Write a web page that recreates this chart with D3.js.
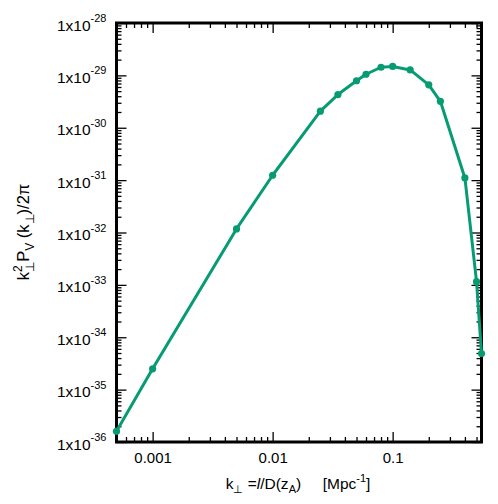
<!DOCTYPE html>
<html>
<head>
<meta charset="utf-8">
<script src="https://cdn.jsdelivr.net/npm/d3@7"></script>
<style>
  html, body { margin: 0; padding: 0; background: #fff; }
  svg { display: block; }
  text { font-family: "Liberation Sans", Arial, Helvetica, sans-serif; fill: #000; }
</style>
</head>
<body>
<svg id="chart" width="498" height="504"></svg>
<script>
// ---- data ----
const kPerp = [0.0005, 0.001, 0.005, 0.01, 0.025, 0.035, 0.05, 0.06, 0.08, 0.1, 0.14, 0.2, 0.25, 0.4, 0.5, 0.55];
const power = [1.6e-36, 2.5e-35, 1.17e-32, 1.24e-31, 2.07e-30, 4.3e-30, 7.9e-30, 1.05e-29, 1.43e-29, 1.48e-29, 1.27e-29, 6.6e-30, 3.2e-30, 1.1e-31, 1.15e-33, 4.9e-35];
const xDomain = [0.0005, 0.55];
const yDomain = [1e-36, 1e-28];
const xMajorTicks = [0.001, 0.01, 0.1];
const xTickLabels = ["0.001", "0.01", "0.1"];
const yExponents = [-28, -29, -30, -31, -32, -33, -34, -35, -36];

// ---- layout ----
const svg = d3.select("#chart");
const pLeft = 116.5, pRight = 481.5, pTop = 23, pBottom = 442;
const x = d3.scaleLog().domain(xDomain).range([pLeft, pRight]);
const y = d3.scaleLog().domain(yDomain).range([pBottom, pTop]);

const color = "#079B74";
const majorLen = 10, minorLen = 5;

function minorTicks(domain) {
  const out = [];
  const lo = Math.floor(Math.log10(domain[0]) - 1e-9), hi = Math.ceil(Math.log10(domain[1]));
  for (let e = lo; e <= hi; e++) {
    for (let m = 2; m <= 9; m++) {
      const v = m * Math.pow(10, e);
      if (v >= domain[0] * 0.9999 && v <= domain[1] * 1.0001) out.push(v);
    }
  }
  return out;
}
const xMinor = minorTicks(xDomain);
const yMinor = minorTicks(yDomain);
const yMajor = yExponents.map(e => Math.pow(10, e));

function addAxis(gen, transform) {
  const g = svg.append("g").attr("transform", transform).call(gen);
  g.select(".domain").remove();
  g.selectAll(".tick line").attr("stroke", "#000").attr("stroke-width", 1.3);
  return g;
}
// bottom
addAxis(d3.axisBottom(x).tickValues(xMinor).tickSize(-minorLen).tickFormat(""), `translate(0,${pBottom})`);
const xb = addAxis(d3.axisBottom(x).tickValues(xMajorTicks).tickSize(-majorLen).tickPadding(0)
  .tickFormat((d, i) => xTickLabels[i]), `translate(0,${pBottom})`);
xb.selectAll(".tick text").attr("y", 0).attr("dy", null).attr("transform", "translate(0,21)")
  .style("font-size", "15px").attr("fill", "#000");
xb.attr("font-family", null).attr("font-size", null);
// top
addAxis(d3.axisTop(x).tickValues(xMinor).tickSize(-minorLen).tickFormat(""), `translate(0,${pTop})`);
addAxis(d3.axisTop(x).tickValues(xMajorTicks).tickSize(-majorLen).tickFormat(""), `translate(0,${pTop})`);
// left
addAxis(d3.axisLeft(y).tickValues(yMinor).tickSize(-minorLen).tickFormat(""), `translate(${pLeft},0)`);
const yl = addAxis(d3.axisLeft(y).tickValues(yMajor).tickSize(-majorLen).tickFormat(""), `translate(${pLeft},0)`);
yl.attr("font-family", null).attr("font-size", null);
// right
addAxis(d3.axisRight(y).tickValues(yMinor).tickSize(-minorLen).tickFormat(""), `translate(${pRight},0)`);
addAxis(d3.axisRight(y).tickValues(yMajor).tickSize(-majorLen).tickFormat(""), `translate(${pRight},0)`);

// y tick labels with superscripts
yl.selectAll(".tick").each(function(d, i) {
  d3.select(this).selectAll("text").remove();
  const t = d3.select(this).append("text")
    .attr("x", -10).attr("y", 7).attr("text-anchor", "end")
    .style("font-size", "15.5px");
  t.append("tspan").text("1x10");
  t.append("tspan").attr("dy", -8.5).style("font-size", "11px").text(String(yExponents[i]));
});

// frame
svg.append("rect").attr("x", pLeft).attr("y", pTop).attr("width", pRight - pLeft).attr("height", pBottom - pTop)
  .attr("fill", "none").attr("stroke", "#000").attr("stroke-width", 3);

// data line
const line = d3.line().x((d, i) => x(kPerp[i])).y(d => y(d));
svg.append("path").datum(power).attr("d", line)
  .attr("fill", "none").attr("stroke", color).attr("stroke-width", 3).attr("stroke-linejoin", "round");
svg.append("g").selectAll("circle").data(power).join("circle")
  .attr("cx", (d, i) => x(kPerp[i])).attr("cy", d => y(d)).attr("r", 3.6).attr("fill", color);

// x axis title
const xt = svg.append("text").attr("x", 298).attr("y", 489).attr("text-anchor", "middle")
  .style("font-size", "15.5px");
xt.append("tspan").text("k");
xt.append("tspan").attr("dy", 4).style("font-size", "11px").text("\u22A5");
xt.append("tspan").attr("dy", -4).text(" =");
xt.append("tspan").style("font-style", "italic").text("l");
xt.append("tspan").text("/D(z");
xt.append("tspan").attr("dy", 4).style("font-size", "11px").text("A");
xt.append("tspan").attr("dy", -4).text(")");
xt.append("tspan").text("\u00A0\u00A0\u00A0\u00A0 [Mpc");
xt.append("tspan").attr("dy", -7).style("font-size", "11px").text("-1");
xt.append("tspan").attr("dy", 7).text("]");

// y axis title
const yt = svg.append("text").attr("transform", "translate(29,232) rotate(-90)")
  .attr("text-anchor", "middle").style("font-size", "16.5px");
yt.append("tspan").text("k");
yt.append("tspan").attr("dy", -7.5).style("font-size", "12px").text("2");
yt.append("tspan").attr("dx", -6.5).attr("dy", 12).style("font-size", "12px").text("\u22A5");
yt.append("tspan").attr("dy", -4.5).text("P");
yt.append("tspan").attr("dy", 4.5).style("font-size", "12px").text("V");
yt.append("tspan").attr("dy", -4.5).text(" (k");
yt.append("tspan").attr("dy", 4.5).style("font-size", "12px").text("\u22A5");
yt.append("tspan").attr("dy", -4.5).text(")/2\u03C0");
</script>
</body>
</html>
